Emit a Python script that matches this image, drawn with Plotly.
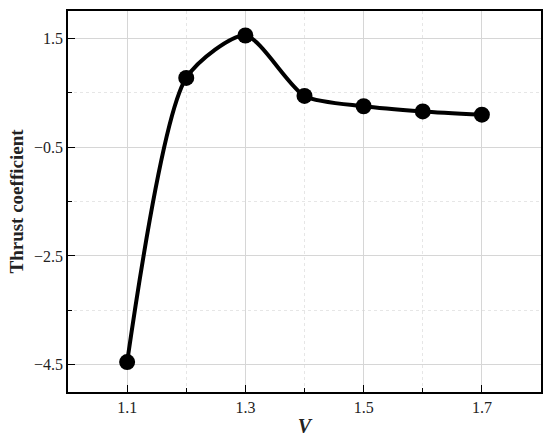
import plotly.graph_objects as go

# Data
speed = [1.1, 1.2, 1.3, 1.4, 1.5, 1.6, 1.7]
thrust = [-4.45, 0.77, 1.55, 0.44, 0.25, 0.155, 0.095]

x_ticks = [1.1, 1.3, 1.5, 1.7]
y_ticks = [-4.5, -2.5, -0.5, 1.5]

font_family = "Liberation Serif, Times New Roman, serif"

fig = go.Figure()

fig.add_trace(go.Scatter(
    x=speed,
    y=thrust,
    mode='lines+markers',
    line=dict(color='black', width=4, shape='spline', smoothing=0.7),
    marker=dict(color='black', size=16),
    showlegend=False
))

axis_common = dict(
    showline=True,
    linecolor='black',
    linewidth=1.5,
    mirror=True,
    ticks='inside',
    ticklen=7,
    tickcolor='black',
    showgrid=True,
    gridcolor='#d6d6d6',
    gridwidth=1,
    zeroline=False,
    automargin=False,
    tickfont=dict(family=font_family, size=16, color='#222'),
)

fig.update_xaxes(
    range=[1.0, 1.8],
    tickvals=x_ticks,
    ticktext=[str(v) for v in x_ticks],
    minor=dict(dtick=0.1, tick0=1.0, ticks='inside', ticklen=4, tickcolor='black',
               showgrid=True, gridcolor='#e6e6e6', griddash='dot'),
    title=dict(text='<b><i>V</i></b>', font=dict(family=font_family, size=20, color='#222'), standoff=4),
    **axis_common
)

fig.update_yaxes(
    range=[-5.0, 2.0],
    tickvals=y_ticks,
    ticktext=['−4.5', '−2.5', '−0.5', '1.5'],
    minor=dict(dtick=1.0, tick0=-5.5, ticks='inside', ticklen=4, tickcolor='black',
               showgrid=True, gridcolor='#e6e6e6', griddash='dot'),
    title=dict(text='<b>Thrust coefficient</b>', font=dict(family=font_family, size=19, color='#222'), standoff=5),
    **axis_common
)

fig.update_layout(
    width=550,
    height=442,
    margin=dict(l=68, r=9, t=11, b=50),
    plot_bgcolor='white',
    paper_bgcolor='white',
)

# drop the browser's default body margin so the figure sits at 0,0
fig.write_html("out.html", config={'displayModeBar': False},
               post_script="document.body.style.margin='0';")
